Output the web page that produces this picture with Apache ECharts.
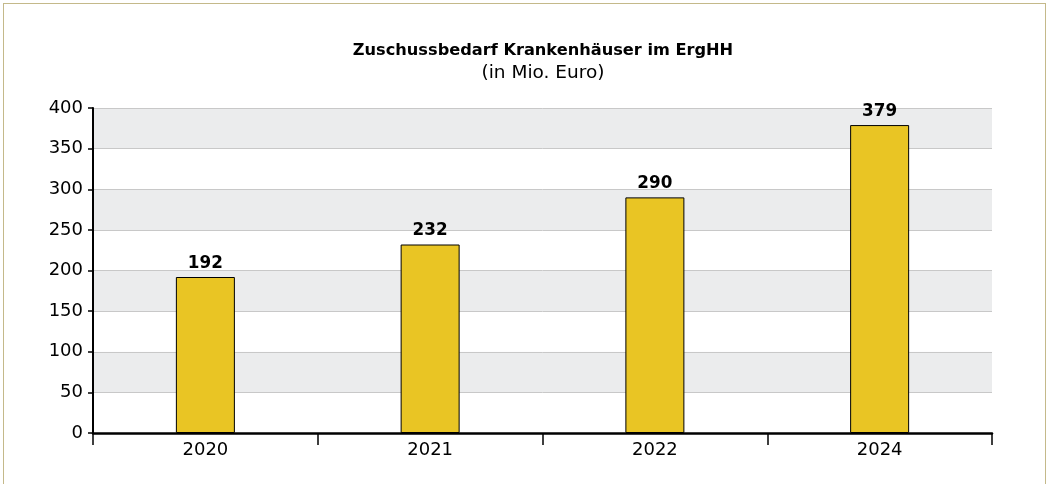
<!DOCTYPE html>
<html>
<head>
<meta charset="utf-8">
<script src="https://cdn.jsdelivr.net/npm/echarts@6/dist/echarts.min.js"></script>
<style>
  html, body { margin: 0; padding: 0; background: #fff; }
  #frame { position: absolute; left: 3px; top: 3px; width: 1043px; height: 520px; border: 1px solid #c4b98a; box-sizing: border-box; }
  #chart { position: absolute; left: 0; top: 0; width: 1046px; height: 484px; }
</style>
</head>
<body>
<div id="frame"></div>
<div id="chart"></div>
<script>
// Zuschussbedarf Krankenhäuser (Mio. Euro)
const years = ['2020', '2021', '2022', '2024'];
const values = [192, 232, 290, 379];
const yTicks = { min: 0, max: 400, interval: 50 };

const FONT = '"DejaVu Sans", sans-serif';
const chart = echarts.init(document.getElementById('chart'), null, { renderer: 'canvas' });

chart.setOption({
  animation: false,
  backgroundColor: 'transparent',
  title: {
    text: 'Zuschussbedarf Krankenhäuser im ErgHH',
    subtext: '(in Mio. Euro)',
    left: 538,
    textAlign: 'center',
    top: 37,
    itemGap: 3,
    textStyle: { fontFamily: FONT, fontSize: 16.2, lineHeight: 18, fontWeight: 'bold', color: '#000' },
    subtextStyle: { fontFamily: FONT, fontSize: 18.5, lineHeight: 20, color: '#000' }
  },
  grid: { left: 93, right: 54, top: 108, bottom: 51, containLabel: false },
  xAxis: {
    type: 'category',
    data: years,
    boundaryGap: true,
    axisLine: { show: true, lineStyle: { color: '#000', width: 2.5 } },
    axisTick: { show: true, alignWithLabel: false, length: 12, lineStyle: { color: '#000', width: 1.5 } },
    axisLabel: { fontFamily: FONT, fontSize: 18, color: '#000', margin: 8 },
    splitLine: { show: false }
  },
  yAxis: {
    type: 'value',
    min: yTicks.min,
    max: yTicks.max,
    interval: yTicks.interval,
    axisLine: { show: true, lineStyle: { color: '#000', width: 2 } },
    axisTick: { show: true, length: 5, lineStyle: { color: '#000', width: 1.5 } },
    axisLabel: { fontFamily: FONT, fontSize: 18, color: '#000', margin: 10 },
    splitLine: { show: true, lineStyle: { color: '#c8c8c8', width: 1 } },
    splitArea: { show: true, areaStyle: { color: ['#ffffff', '#ebeced'] } }
  },
  series: [{
    type: 'bar',
    data: values,
    barWidth: 59,
    itemStyle: { color: '#e9c524', borderColor: '#000', borderWidth: 1 },
    label: {
      show: true,
      position: 'top',
      distance: 5,
      fontFamily: FONT,
      fontSize: 16.8,
      fontWeight: 'bold',
      color: '#000'
    }
  }]
});
</script>
</body>
</html>
